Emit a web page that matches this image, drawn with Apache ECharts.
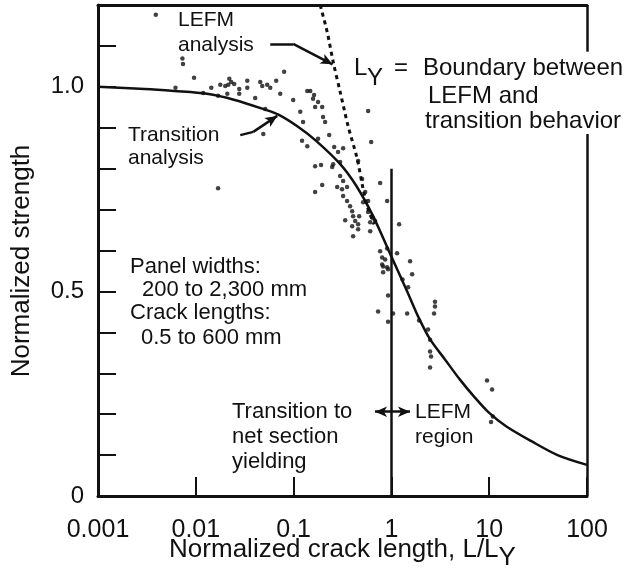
<!DOCTYPE html>
<html style="height: 100%">
<head>
  <meta charset="UTF-8">
  <title>normalized strength</title>
</head>
<body style="height: 100%; margin: 0; background: #fff">
<div id="container" style="width: 626px; height: 579px"></div>
<script src="https://cdn.jsdelivr.net/npm/echarts@6/dist/echarts.min.js"></script>
<script>
  // tick labels
  var xTickLabels = ['0.001', '0.01', '0.1', '1', '10', '100'];
  var yTickLabels = { 0: '0', 5: '0.5', 10: '1.0' };

  // test results, [L/LY, normalized strength]
  var testPoints = [
    [0.0039, 1.176], [0.0073, 1.069], [0.0074, 1.056], [0.0096, 1.022], [0.0062, 0.998],
    [0.0119, 0.985], [0.0144, 0.998], [0.0169, 0.978], [0.0178, 1.005], [0.020, 1.002],
    [0.021, 0.983], [0.022, 1.020], [0.023, 1.012], [0.0215, 1.005], [0.0247, 1.007],
    [0.0278, 0.995], [0.0278, 0.983], [0.0336, 1.015], [0.0336, 0.998], [0.0456, 1.012],
    [0.0478, 1.002], [0.0537, 1.005], [0.0577, 0.998], [0.0664, 1.015], [0.080, 1.037],
    [0.073, 0.983], [0.0405, 0.973], [0.099, 0.968], [0.0513, 0.946], [0.049, 0.885],
    [0.0169, 0.752], [0.166, 0.806], [0.166, 0.743], [0.138, 0.990], [0.158, 0.971],
    [0.166, 0.951], [0.117, 0.939], [0.125, 0.914], [0.122, 0.868], [0.138, 0.855],
    [0.148, 0.990], [0.162, 0.980], [0.178, 0.963], [0.196, 0.951], [0.200, 0.926],
    [0.210, 0.914], [0.231, 0.882], [0.178, 0.873], [0.260, 0.853], [0.285, 0.841],
    [0.321, 0.850], [0.191, 0.809], [0.578, 0.941], [0.621, 0.865], [0.254, 0.811],
    [0.248, 0.804], [0.299, 0.816], [0.457, 0.819], [0.299, 0.782], [0.321, 0.770],
    [0.279, 0.755], [0.313, 0.750], [0.352, 0.755], [0.196, 0.760], [0.767, 0.765],
    [0.321, 0.733], [0.352, 0.721], [0.378, 0.708], [0.397, 0.696], [0.406, 0.684],
    [0.426, 0.672], [0.397, 0.659], [0.457, 0.664], [0.406, 0.635], [0.457, 0.652],
    [0.468, 0.684], [0.337, 0.674], [0.514, 0.718], [0.540, 0.743], [0.502, 0.775],
    [0.578, 0.721], [0.578, 0.694], [0.635, 0.684], [0.650, 0.679], [0.682, 0.672],
    [0.607, 0.669], [0.607, 0.647], [0.904, 0.721], [1.199, 0.664], [0.767, 0.598],
    [0.804, 0.583], [0.863, 0.578], [0.904, 0.605], [0.823, 0.561], [0.904, 0.559],
    [0.823, 0.547], [1.143, 0.593], [1.553, 0.574], [1.629, 0.542], [1.30, 0.529],
    [1.483, 0.510], [0.925, 0.490], [0.731, 0.451], [1.04, 0.446], [0.925, 0.426],
    [1.449, 0.446], [2.79, 0.475], [2.79, 0.463], [2.73, 0.446], [1.92, 0.429],
    [2.37, 0.407], [2.485, 0.382], [2.485, 0.353], [2.545, 0.341], [2.485, 0.314],
    [9.5, 0.282], [10.7, 0.260], [10.9, 0.194], [10.45, 0.181], [0.804, 0.566],
    [0.925, 0.554]
  ];

  // transition analysis curve
  var transitionCurve = [
    [0.001, 1.0], [0.003, 0.995], [0.006, 0.99], [0.013, 0.983], [0.025, 0.968],
    [0.05, 0.945], [0.07, 0.932], [0.11, 0.903], [0.17, 0.868], [0.3, 0.811],
    [0.44, 0.757], [0.65, 0.684], [1.0, 0.585], [1.45, 0.5], [1.9, 0.436],
    [2.5, 0.382], [3.5, 0.335], [5, 0.285], [7, 0.243], [10, 0.203],
    [15, 0.17], [27, 0.134], [50, 0.1], [100, 0.076]
  ];

  // LEFM analysis (dashed)
  var lefmCurve = [
    [0.187, 1.2], [0.220, 1.135], [0.254, 1.061], [0.299, 0.988], [0.361, 0.904],
    [0.447, 0.824], [0.514, 0.75], [0.578, 0.701], [0.666, 0.664]
  ];

  var FONT = '"Liberation Sans", Arial, Helvetica, sans-serif';
  var INK = '#111';

  var dom = document.getElementById('container');
  var myChart = echarts.init(dom, null, { renderer: 'canvas' });

  function seg(a, b, arrow) {
    return [
      { coord: a, symbol: 'none' },
      { coord: b, symbol: arrow ? 'arrow' : 'none', symbolSize: arrow ? [8, 12] : 0 }
    ];
  }

  function txt(x, y, text, size, extra) {
    var el = {
      type: 'text', x: x, y: y,
      style: { text: text, font: size + 'px ' + FONT, fill: INK, verticalAlign: 'middle' }
    };
    if (extra) Object.assign(el, extra);
    return el;
  }

  var option = {
    animation: false,
    backgroundColor: '#fff',
    grid: {
      left: 98, right: 39, top: 5, bottom: 83,
      containLabel: false, outerBoundsMode: 'none'
    },
    xAxis: [
      {
        type: 'log', logBase: 10, min: 0.001, max: 100,
        axisLine: { lineStyle: { color: INK, width: 3 } },
        axisTick: { inside: true, length: 19, lineStyle: { color: INK, width: 2 } },
        splitLine: { show: false },
        axisLabel: {
          margin: 22, fontSize: 25, fontFamily: FONT, color: INK,
          formatter: function (v) {
            return xTickLabels[Math.round(Math.log10(v)) + 3] || '';
          }
        },
        name: 'Normalized crack length, L/L{s|Y}',
        nameLocation: 'middle', nameGap: 54, nameMoveOverlap: false,
        nameTextStyle: {
          fontSize: 26, fontFamily: FONT, color: INK, verticalAlign: 'middle',
          rich: { s: { fontSize: 26, fontFamily: FONT, color: INK, padding: [16, 0, 0, 0] } }
        }
      },
      {
        type: 'log', logBase: 10, min: 0.001, max: 100, position: 'top',
        axisLine: { lineStyle: { color: INK, width: 3 } },
        axisTick: { show: false }, axisLabel: { show: false }, splitLine: { show: false }
      }
    ],
    yAxis: {
      type: 'value', min: 0, max: 1.2, interval: 0.1,
      axisLine: { show: true, lineStyle: { color: INK, width: 3 } },
      axisTick: { show: true, inside: true, length: 18, lineStyle: { color: INK, width: 2 } },
      splitLine: { show: false },
      axisLabel: {
        margin: 14, fontSize: 24, fontFamily: FONT, color: INK,
        formatter: function (v) {
          var k = Math.round(v * 10);
          return yTickLabels[k] !== undefined ? yTickLabels[k] : '';
        }
      }
    },
    series: [
      {
        type: 'scatter',
        data: testPoints,
        symbolSize: 4.5,
        itemStyle: { color: '#111' }
      },
      {
        type: 'line',
        data: transitionCurve,
        smooth: 0.3,
        showSymbol: false,
        lineStyle: { color: INK, width: 2.5 }
      },
      {
        type: 'line',
        data: lefmCurve,
        smooth: 0.3,
        showSymbol: false,
        lineStyle: { color: INK, width: 3, type: [4, 4] }
      },
      {
        // frame, LY boundary and leader lines
        type: 'line',
        data: [],
        markLine: {
          silent: true,
          animation: false,
          label: { show: false },
          lineStyle: { color: INK, width: 2.5, type: 'solid' },
          data: [
            seg([1, 0], [1, 0.8]),
            seg([100, 0], [100, 0.885]),
            seg([100, 1.086], [100, 1.2]),
            seg([1, 0.206], [0.68, 0.206], true),
            seg([1, 0.206], [1.55, 0.206], true),
            seg([0.0577, 1.105], [0.099, 1.105]),
            seg([0.099, 1.105], [0.25, 1.055], true),
            seg([0.0285, 0.882], [0.0387, 0.89]),
            seg([0.0387, 0.89], [0.068, 0.929], true)
          ]
        }
      }
    ],
    graphic: [
      txt(22, 261, 'Normalized strength', 26, { rotation: Math.PI / 2, style: {
        text: 'Normalized strength', font: '26px ' + FONT, fill: INK,
        align: 'center', verticalAlign: 'middle' } }),
      txt(178, 20, 'LEFM', 21),
      txt(178, 45, 'analysis', 21),
      txt(128, 135, 'Transition', 21),
      txt(128, 158, 'analysis', 21),
      txt(130, 267, 'Panel widths:', 22),
      txt(142, 290, '200 to 2,300 mm', 22),
      txt(130, 313, 'Crack lengths:', 22),
      txt(141, 338, '0.5 to 600 mm', 22),
      txt(354, 68, 'L', 24),
      txt(367, 78, 'Y', 24),
      txt(394, 68, '=', 24),
      txt(423, 68, 'Boundary between', 24),
      txt(428, 96, 'LEFM and', 24),
      txt(425, 121, 'transition behavior', 24),
      txt(232, 412, 'Transition to', 22),
      txt(232, 437, 'net section', 22),
      txt(232, 462, 'yielding', 22),
      txt(415, 412, 'LEFM', 21),
      txt(415, 437, 'region', 21)
    ]
  };

  myChart.setOption(option);
  window.addEventListener('resize', myChart.resize);
</script>
</body>
</html>
